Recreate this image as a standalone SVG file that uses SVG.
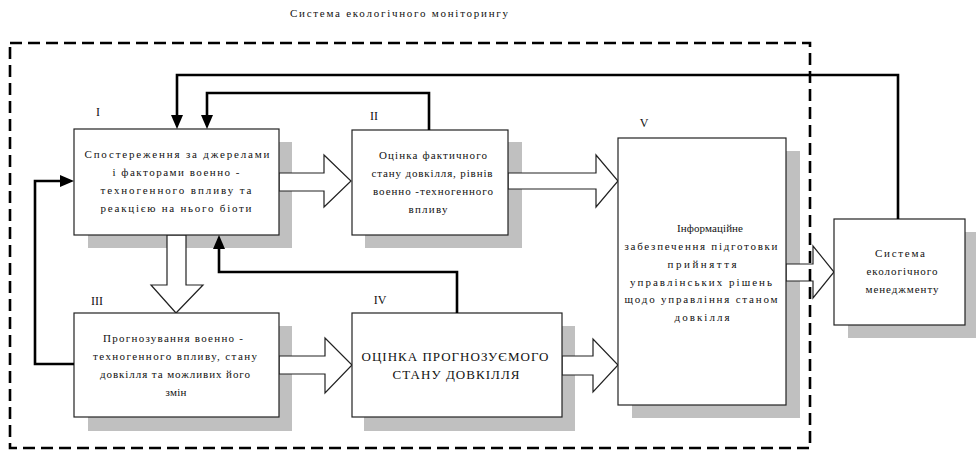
<svg xmlns="http://www.w3.org/2000/svg" width="976" height="452" viewBox="0 0 976 452">
<style>
text{font-family:"Liberation Serif","Times New Roman",serif;font-size:11px;fill:#111;text-anchor:middle}
.caps{font-size:13px}
.lbl{font-size:12px}
.box{fill:#fff;stroke:#222;stroke-width:1.2}
.sh{fill:#c0c0c0}
.blk{fill:#fff;stroke:#222;stroke-width:1.2;stroke-linejoin:miter}
.con{fill:none;stroke:#000;stroke-width:2.6}
</style>
<defs>
<marker id="ah" viewBox="0 0 14 12" refX="10" refY="6" markerWidth="14" markerHeight="12" markerUnits="userSpaceOnUse" orient="auto">
<path d="M0,0 L14,6 L0,12 z" fill="#000"/>
</marker>
</defs>
<rect width="976" height="452" fill="#fff"/>
<text x="399" y="17" textLength="218" lengthAdjust="spacing">Система екологічного моніторингу</text>

<g id="shadows">
<rect class="sh" x="88" y="142" width="204" height="106"/>
<rect class="sh" x="365" y="142" width="157" height="106"/>
<rect class="sh" x="88" y="326" width="204" height="105"/>
<rect class="sh" x="364" y="326" width="211" height="105"/>
<rect class="sh" x="632" y="151" width="168" height="267"/>
<rect class="sh" x="848" y="232" width="128" height="106"/>
</g>

<g id="block-arrows">
<polygon class="blk" points="279,173 324,173 324,155 351,181 324,207 324,191 279,191"/>
<polygon class="blk" points="508,173 596,173 596,155 618,181 596,207 596,189 508,189"/>
<polygon class="blk" points="167,235 186,235 186,285 203,285 176,313 151,285 167,285"/>
<polygon class="blk" points="279,356 325,356 325,338 352,365 325,393 325,374 279,374"/>
<polygon class="blk" points="562,356 593,356 593,339 618,365 593,392 593,375 562,375"/>
<polygon class="blk" points="786,264 813,264 813,246 834,272 813,298 813,281 786,281"/>
</g>

<g id="node-I">
<rect class="box" x="74" y="129" width="205" height="106"/>
<text class="lbl" x="98" y="116">I</text>
<text x="177" y="158" textLength="185" lengthAdjust="spacing">Спостереження за джерелами</text>
<text x="176" y="176" textLength="127" lengthAdjust="spacing">і факторами военно -</text>
<text x="176" y="194" textLength="151" lengthAdjust="spacing">техногенного впливу та</text>
<text x="176" y="212" textLength="151" lengthAdjust="spacing">реакцією на нього біоти</text>
</g>

<g id="node-II">
<rect class="box" x="352" y="130" width="156" height="105"/>
<text class="lbl" x="374" y="120">II</text>
<text x="433" y="159" textLength="108" lengthAdjust="spacing">Оцінка фактичного</text>
<text x="432" y="177" textLength="121" lengthAdjust="spacing">стану довкілля, рівнів</text>
<text x="433" y="195" textLength="120" lengthAdjust="spacing">военно -техногенного</text>
<text x="428" y="213" textLength="39" lengthAdjust="spacing">впливу</text>
</g>

<g id="node-III">
<rect class="box" x="74" y="313" width="205" height="104"/>
<text class="lbl" x="97" y="305">III</text>
<text x="173" y="342" textLength="140" lengthAdjust="spacing">Прогнозування военно -</text>
<text x="175" y="360" textLength="164" lengthAdjust="spacing">техногенного впливу, стану</text>
<text x="175" y="378" textLength="150" lengthAdjust="spacing">довкілля та можливих його</text>
<text x="176" y="396" textLength="21" lengthAdjust="spacing">змін</text>
</g>

<g id="node-IV">
<rect class="box" x="352" y="313" width="210" height="104"/>
<text class="lbl" x="380" y="304">IV</text>
<text class="caps" x="455" y="361" textLength="187" lengthAdjust="spacing">ОЦІНКА ПРОГНОЗУЄМОГО</text>
<text class="caps" x="456" y="379" textLength="127" lengthAdjust="spacing">СТАНУ ДОВКІЛЛЯ</text>
</g>

<g id="node-V">
<rect class="box" x="618" y="138" width="168" height="267"/>
<text class="lbl" x="644" y="127">V</text>
<text x="710" y="232" textLength="66" lengthAdjust="spacing">Інформаційне</text>
<text x="701" y="250" textLength="153" lengthAdjust="spacing">забезпечення підготовки</text>
<text x="702" y="268" textLength="69" lengthAdjust="spacing">прийняття</text>
<text x="701" y="286" textLength="142" lengthAdjust="spacing">управлінських рішень</text>
<text x="701" y="303" textLength="153" lengthAdjust="spacing">щодо управління станом</text>
<text x="702" y="321" textLength="55" lengthAdjust="spacing">довкілля</text>
</g>

<g id="node-management">
<rect class="box" x="834" y="219" width="131" height="106"/>
<text x="900" y="257" textLength="50" lengthAdjust="spacing">Система</text>
<text x="902" y="275" textLength="71" lengthAdjust="spacing">екологічного</text>
<text x="902" y="293" textLength="73" lengthAdjust="spacing">менеджменту</text>
</g>

<g id="connectors">
<path class="con" d="M898,219 V75 H177 V125" marker-end="url(#ah)"/>
<path class="con" d="M429,130 V93 H207 V125" marker-end="url(#ah)"/>
<path class="con" d="M457,313 V272 H219 V239" marker-end="url(#ah)"/>
<path class="con" d="M74,364 H35 V181 H70" marker-end="url(#ah)"/>
</g>

<g id="boundary">
<rect x="10" y="43" width="800" height="405" fill="none" stroke="#000" stroke-width="2.6" stroke-dasharray="12 6"/>
</g>
</svg>
